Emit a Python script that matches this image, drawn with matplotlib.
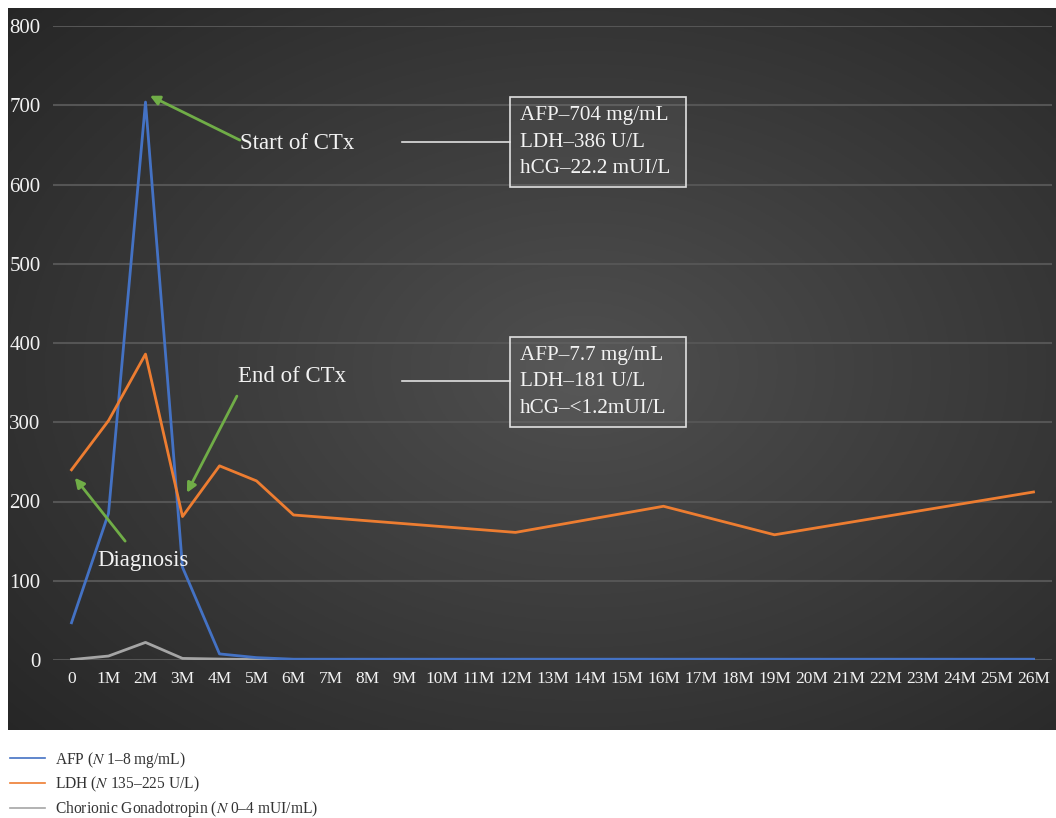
import numpy as np
import matplotlib.pyplot as plt
from matplotlib.lines import Line2D
from matplotlib.patches import Rectangle

plt.rcParams['font.family'] = ['Liberation Serif', 'DejaVu Serif']
plt.rcParams['mathtext.fontset'] = 'stix'

# categorias del eje x
categorias = ['0'] + [f'{i}M' for i in range(1, 27)]

# meses con datos
meses = [0, 1, 2, 3, 4, 5, 6, 12, 16, 19, 26]
afp = [47, 185, 704, 117, 7.7, 3, 1, 1, 1, 1, 1]
ldh = [240, 302, 386, 181, 245, 226, 183, 161, 194, 158, 212]
hcg = [0.5, 5, 22.2, 2, 1.2, 0.5, 0.5, 0.5, 0.5, 0.5, 0.5]

azul = '#4472C4'
naranja = '#ED7D31'
gris = '#A5A5A5'
verde = '#70AD47'
blanco = '#F2F2F2'

fig = plt.figure(figsize=(10.56, 8.18), dpi=100)

# fondo oscuro con degradado radial
bg = fig.add_axes([8 / 1056, 88 / 818, 1048 / 1056, 722 / 818])
yy, xx = np.mgrid[0:1:300j, 0:1:400j]
r = np.sqrt(((xx - 0.55) / 0.75) ** 2 + ((yy - 0.5) / 0.75) ** 2)
r = np.clip(r, 0, 1)
c_in = np.array([0.31, 0.31, 0.31])
c_out = np.array([0.15, 0.15, 0.15])
img = c_in[None, None, :] * (1 - r[..., None]) + c_out[None, None, :] * r[..., None]
bg.imshow(img, aspect='auto', extent=[0, 1, 0, 1])
bg.axis('off')

ax = fig.add_axes([53 / 1056, 158 / 818, 999 / 1056, 634 / 818])
ax.set_facecolor('none')

ax.plot(meses, afp, color=azul, lw=2, zorder=3)
ax.plot(meses, ldh, color=naranja, lw=2, zorder=3)
ax.plot(meses, hcg, color=gris, lw=2, zorder=2)

ax.set_xlim(-0.5, 26.5)
ax.set_ylim(0, 800)
ax.set_yticks(range(0, 801, 100))
ax.set_xticks(range(27))
ax.set_xticklabels(categorias)
ax.tick_params(axis='y', colors=blanco, labelsize=15, length=0, pad=9)
ax.tick_params(axis='x', colors=blanco, labelsize=12.5, length=0, pad=8)
ax.grid(axis='y', color='#555555', lw=1.5)
ax.set_axisbelow(True)
for s in ax.spines.values():
    s.set_visible(False)

# flechas y anotaciones
flecha = dict(arrowstyle='-|>', color=verde, lw=2, mutation_scale=14, shrinkA=0, shrinkB=0)
ax.annotate('', xy=(2.12, 712), xytext=(4.55, 656), arrowprops=flecha)
ax.annotate('', xy=(3.12, 211), xytext=(4.47, 333), arrowprops=flecha)
ax.annotate('', xy=(0.09, 230), xytext=(1.45, 150), arrowprops=flecha)

ax.text(4.55, 652, 'Start of CTx', color=blanco, fontsize=16.5, va='center')
ax.text(4.5, 358, 'End of CTx', color=blanco, fontsize=16.5, va='center')
ax.text(0.69, 125, 'Diagnosis', color=blanco, fontsize=16.5, va='center')

# cajas de valores
cajas = [(654, 710, 597, ['AFP–704 mg/mL', 'LDH–386 U/L', 'hCG–22.2 mUI/L']),
         (352, 408, 294, ['AFP–7.7 mg/mL', 'LDH–181 U/L', 'hCG–<1.2mUI/L'])]
for yl, ytop, ybot, lineas in cajas:
    ax.plot([8.93, 11.85], [yl, yl], color='#E0E0E0', lw=1.2, zorder=4)
    ax.add_patch(Rectangle((11.85, ybot), 16.6 - 11.85, ytop - ybot, facecolor=(1, 1, 1, 0.05),
                           edgecolor='#E0E0E0', lw=1.2, zorder=4))
    paso = (ytop - ybot) / 3.4
    for i, t in enumerate(lineas):
        ax.text(12.12, ytop - paso * (i + 0.7), t, color=blanco, fontsize=15.2, va='center', zorder=5)

# leyenda
handles = [Line2D([], [], color=azul, lw=1.2),
           Line2D([], [], color=naranja, lw=1.2),
           Line2D([], [], color=gris, lw=1.2)]
labels = [r'AFP ($N$ 1–8 mg/mL)', r'LDH ($N$ 135–225 U/L)', r'Chorionic Gonadotropin ($N$ 0–4 mUI/mL)']
fig.legend(handles, labels, loc='upper left', bbox_to_anchor=(0.004, 0.091), frameon=False,
           fontsize=11.2, handlelength=2.25, handletextpad=0.6, labelspacing=0.32,
           labelcolor='#333333', borderaxespad=0)

plt.savefig('out.png', dpi=100)
